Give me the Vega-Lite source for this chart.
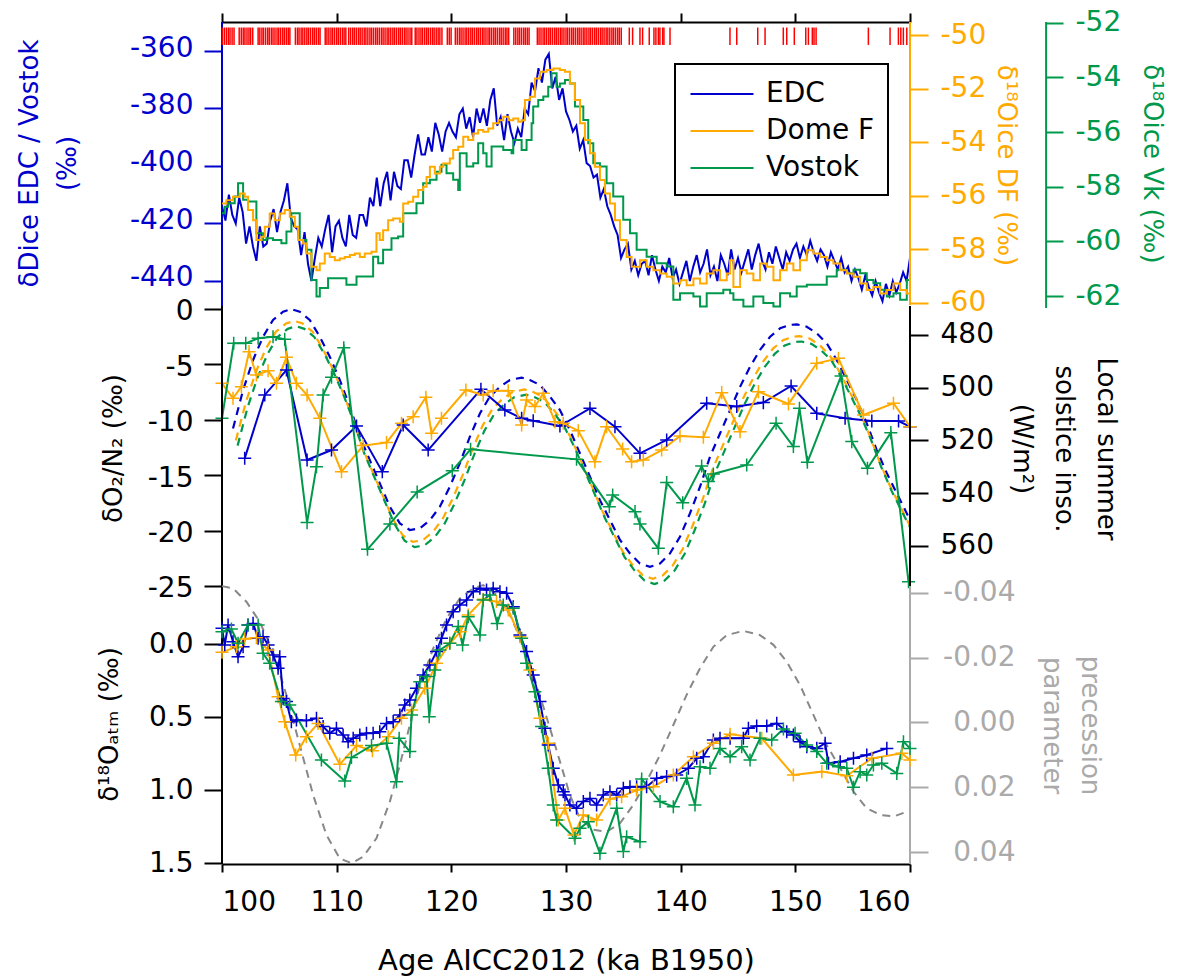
{
"$schema": "https://vega.github.io/schema/vega-lite/v6.json",
"width": 688, "height": 842,
"autosize": "none",
"padding": {"left": 222, "top": 22, "right": 271, "bottom": 115},
"background": "white",
"config": {
 "font": "DejaVu Sans",
 "view": {"stroke": null},
 "axis": {"labelFont": "DejaVu Sans", "titleFont": "DejaVu Sans", "labelFontSize": 28, "titleFontSize": 26, "titleFontWeight": "normal", "grid": false, "tickWidth": 2, "domainWidth": 2, "labelColor": "black", "titleColor": "black"},
 "legend": {"labelFont": "DejaVu Sans", "labelFontSize": 28, "strokeWidth": 2}
},
"datasets": {
 "dD": [
{"t":100.0,"v":-414},{"t":100.3,"v":-419},{"t":100.6,"v":-410},{"t":100.9,"v":-417},{"t":101.2,"v":-420},{"t":101.5,"v":-411},{"t":101.8,"v":-416},{"t":102.1,"v":-427},{"t":102.4,"v":-421},{"t":102.7,"v":-428},{"t":103.0,"v":-433},{"t":103.3,"v":-421},{"t":103.6,"v":-428},{"t":103.9,"v":-427},{"t":104.2,"v":-419},{"t":104.5,"v":-415},{"t":104.8,"v":-423},{"t":105.1,"v":-416},{"t":105.4,"v":-412},{"t":105.7,"v":-406},{"t":106.0,"v":-418},{"t":106.3,"v":-421},{"t":106.6,"v":-422},{"t":106.9,"v":-431},{"t":107.2,"v":-423},{"t":107.5,"v":-434},{"t":107.8,"v":-440},{"t":108.1,"v":-432},{"t":108.4,"v":-425},{"t":108.7,"v":-428},{"t":109.0,"v":-422},{"t":109.3,"v":-417},{"t":109.6,"v":-430},{"t":109.9,"v":-421},{"t":110.2,"v":-419},{"t":110.5,"v":-425},{"t":110.8,"v":-428},{"t":111.1,"v":-417},{"t":111.4,"v":-424},{"t":111.7,"v":-425},{"t":112.0,"v":-417},{"t":112.3,"v":-417},{"t":112.6,"v":-421},{"t":112.9,"v":-411},{"t":113.2,"v":-414},{"t":113.5,"v":-404},{"t":113.8,"v":-414},{"t":114.1,"v":-406},{"t":114.4,"v":-402},{"t":114.7,"v":-412},{"t":115.0,"v":-402},{"t":115.3,"v":-407},{"t":115.6,"v":-408},{"t":115.9,"v":-398},{"t":116.2,"v":-398},{"t":116.5,"v":-404},{"t":116.8,"v":-396},{"t":117.1,"v":-389},{"t":117.4,"v":-396},{"t":117.7,"v":-396},{"t":118.0,"v":-390},{"t":118.3,"v":-395},{"t":118.6,"v":-385},{"t":118.9,"v":-389},{"t":119.2,"v":-395},{"t":119.5,"v":-388},{"t":119.8,"v":-385},{"t":120.1,"v":-388},{"t":120.4,"v":-390},{"t":120.7,"v":-382},{"t":121.0,"v":-380},{"t":121.3,"v":-387},{"t":121.6,"v":-383},{"t":121.9,"v":-390},{"t":122.2,"v":-380},{"t":122.5,"v":-385},{"t":122.8,"v":-380},{"t":123.1,"v":-386},{"t":123.4,"v":-377},{"t":123.7,"v":-373},{"t":124.0,"v":-386},{"t":124.3,"v":-383},{"t":124.6,"v":-391},{"t":124.9,"v":-382},{"t":125.2,"v":-388},{"t":125.5,"v":-392},{"t":125.8,"v":-387},{"t":126.1,"v":-390},{"t":126.4,"v":-380},{"t":126.7,"v":-382},{"t":127.0,"v":-371},{"t":127.3,"v":-374},{"t":127.6,"v":-366},{"t":127.9,"v":-371},{"t":128.2,"v":-363},{"t":128.5,"v":-361},{"t":128.8,"v":-373},{"t":129.1,"v":-369},{"t":129.4,"v":-377},{"t":129.7,"v":-373},{"t":130.0,"v":-381},{"t":130.3,"v":-384},{"t":130.6,"v":-388},{"t":130.9,"v":-386},{"t":131.2,"v":-394},{"t":131.5,"v":-391},{"t":131.8,"v":-399},{"t":132.1,"v":-400},{"t":132.4,"v":-404},{"t":132.7,"v":-403},{"t":133.0,"v":-411},{"t":133.3,"v":-408},{"t":133.6,"v":-414},{"t":133.9,"v":-417},{"t":134.2,"v":-421},{"t":134.5,"v":-424},{"t":134.8,"v":-432},{"t":135.1,"v":-429},{"t":135.4,"v":-427},{"t":135.7,"v":-436},{"t":136.0,"v":-433},{"t":136.3,"v":-438},{"t":136.6,"v":-434},{"t":136.9,"v":-433},{"t":137.2,"v":-438},{"t":137.5,"v":-431},{"t":137.8,"v":-436},{"t":138.1,"v":-440},{"t":138.4,"v":-435},{"t":138.7,"v":-437},{"t":139.0,"v":-432},{"t":139.3,"v":-439},{"t":139.6,"v":-436},{"t":139.9,"v":-441},{"t":140.2,"v":-437},{"t":140.5,"v":-433},{"t":140.8,"v":-440},{"t":141.1,"v":-435},{"t":141.4,"v":-431},{"t":141.7,"v":-437},{"t":142.0,"v":-434},{"t":142.3,"v":-429},{"t":142.6,"v":-438},{"t":142.9,"v":-435},{"t":143.2,"v":-440},{"t":143.5,"v":-431},{"t":143.8,"v":-434},{"t":144.1,"v":-438},{"t":144.4,"v":-429},{"t":144.7,"v":-436},{"t":145.0,"v":-432},{"t":145.3,"v":-437},{"t":145.6,"v":-433},{"t":145.9,"v":-429},{"t":146.2,"v":-436},{"t":146.5,"v":-431},{"t":146.8,"v":-427},{"t":147.1,"v":-433},{"t":147.4,"v":-436},{"t":147.7,"v":-430},{"t":148.0,"v":-434},{"t":148.3,"v":-428},{"t":148.6,"v":-432},{"t":148.9,"v":-436},{"t":149.2,"v":-430},{"t":149.5,"v":-433},{"t":149.8,"v":-429},{"t":150.1,"v":-427},{"t":150.4,"v":-432},{"t":150.7,"v":-428},{"t":151.0,"v":-431},{"t":151.3,"v":-426},{"t":151.6,"v":-430},{"t":151.9,"v":-433},{"t":152.2,"v":-429},{"t":152.5,"v":-431},{"t":152.8,"v":-435},{"t":153.1,"v":-430},{"t":153.4,"v":-433},{"t":153.7,"v":-436},{"t":154.0,"v":-432},{"t":154.3,"v":-437},{"t":154.6,"v":-435},{"t":154.9,"v":-440},{"t":155.2,"v":-436},{"t":155.5,"v":-439},{"t":155.8,"v":-443},{"t":156.1,"v":-438},{"t":156.4,"v":-442},{"t":156.7,"v":-445},{"t":157.0,"v":-440},{"t":157.3,"v":-444},{"t":157.6,"v":-447},{"t":157.9,"v":-441},{"t":158.2,"v":-445},{"t":158.5,"v":-440},{"t":158.8,"v":-444},{"t":159.1,"v":-441},{"t":159.4,"v":-437},{"t":159.7,"v":-440},{"t":160.0,"v":-432}
 ],
 "df": [
{"t":100.0,"v":-56.29},{"t":100.38,"v":-56.17},{"t":100.96,"v":-56.04},{"t":101.55,"v":-55.92},{"t":101.98,"v":-56.04},{"t":102.27,"v":-56.54},{"t":102.71,"v":-56.92},{"t":103.0,"v":-57.66},{"t":103.44,"v":-57.54},{"t":103.73,"v":-57.16},{"t":104.16,"v":-56.67},{"t":104.6,"v":-56.92},{"t":105.04,"v":-56.67},{"t":105.47,"v":-56.54},{"t":105.91,"v":-56.79},{"t":106.35,"v":-57.16},{"t":106.64,"v":-57.66},{"t":107.07,"v":-57.79},{"t":107.36,"v":-58.16},{"t":107.8,"v":-58.66},{"t":108.24,"v":-58.79},{"t":108.53,"v":-58.54},{"t":108.96,"v":-58.16},{"t":109.4,"v":-58.29},{"t":109.84,"v":-58.41},{"t":110.27,"v":-58.35},{"t":110.71,"v":-58.29},{"t":111.15,"v":-58.22},{"t":111.58,"v":-58.16},{"t":112.02,"v":-58.29},{"t":112.45,"v":-58.16},{"t":113.04,"v":-58.1},{"t":113.47,"v":-57.41},{"t":113.76,"v":-57.66},{"t":114.05,"v":-57.29},{"t":114.49,"v":-56.92},{"t":114.93,"v":-56.85},{"t":115.51,"v":-56.98},{"t":115.8,"v":-56.29},{"t":116.24,"v":-56.23},{"t":116.67,"v":-56.04},{"t":117.11,"v":-55.79},{"t":117.54,"v":-55.67},{"t":117.84,"v":-55.3},{"t":118.13,"v":-54.92},{"t":118.56,"v":-55.17},{"t":119.0,"v":-54.92},{"t":119.29,"v":-54.8},{"t":119.87,"v":-54.61},{"t":120.16,"v":-54.3},{"t":120.6,"v":-54.17},{"t":121.04,"v":-53.8},{"t":121.47,"v":-53.92},{"t":121.91,"v":-53.68},{"t":122.34,"v":-53.55},{"t":122.78,"v":-53.61},{"t":123.22,"v":-53.49},{"t":123.65,"v":-53.3},{"t":124.09,"v":-53.18},{"t":124.53,"v":-53.05},{"t":124.96,"v":-53.18},{"t":125.4,"v":-53.12},{"t":125.84,"v":-53.24},{"t":126.13,"v":-53.18},{"t":126.42,"v":-52.43},{"t":126.85,"v":-52.31},{"t":127.29,"v":-51.62},{"t":127.73,"v":-51.37},{"t":128.31,"v":-51.31},{"t":128.89,"v":-51.25},{"t":129.47,"v":-51.31},{"t":129.91,"v":-51.37},{"t":130.34,"v":-51.81},{"t":130.78,"v":-52.43},{"t":131.22,"v":-53.3},{"t":131.65,"v":-53.92},{"t":132.09,"v":-54.42},{"t":132.52,"v":-54.92},{"t":132.96,"v":-55.42},{"t":133.4,"v":-55.92},{"t":133.83,"v":-56.29},{"t":134.27,"v":-56.92},{"t":134.71,"v":-57.66},{"t":135.29,"v":-58.29},{"t":135.72,"v":-58.66},{"t":136.45,"v":-58.41},{"t":137.03,"v":-58.66},{"t":137.62,"v":-58.79},{"t":138.2,"v":-58.91},{"t":138.78,"v":-59.03},{"t":139.36,"v":-59.28},{"t":139.94,"v":-59.16},{"t":140.52,"v":-59.35},{"t":141.11,"v":-59.1},{"t":141.69,"v":-59.28},{"t":142.27,"v":-58.91},{"t":142.85,"v":-58.79},{"t":143.43,"v":-59.16},{"t":144.02,"v":-58.91},{"t":144.31,"v":-58.41},{"t":144.6,"v":-59.41},{"t":145.18,"v":-58.79},{"t":145.76,"v":-58.91},{"t":146.34,"v":-59.16},{"t":146.92,"v":-58.54},{"t":147.51,"v":-58.66},{"t":148.09,"v":-59.16},{"t":148.67,"v":-58.79},{"t":149.25,"v":-58.54},{"t":149.83,"v":-58.79},{"t":150.41,"v":-58.41},{"t":151.0,"v":-58.04},{"t":151.58,"v":-58.16},{"t":152.16,"v":-58.29},{"t":152.74,"v":-58.41},{"t":153.32,"v":-58.54},{"t":153.91,"v":-58.79},{"t":154.49,"v":-58.91},{"t":155.07,"v":-59.03},{"t":155.65,"v":-59.28},{"t":156.23,"v":-59.53},{"t":156.81,"v":-59.41},{"t":157.4,"v":-59.66},{"t":157.98,"v":-59.53},{"t":158.56,"v":-59.28},{"t":159.14,"v":-59.53},{"t":159.72,"v":-59.66},{"t":160.0,"v":-59.66}
 ],
 "vk": [
{"t":100.0,"v":-58.97},{"t":100.24,"v":-58.73},{"t":100.53,"v":-58.61},{"t":101.11,"v":-58.36},{"t":101.4,"v":-57.87},{"t":101.84,"v":-58.48},{"t":102.27,"v":-58.54},{"t":103.0,"v":-59.7},{"t":103.58,"v":-59.95},{"t":103.87,"v":-59.89},{"t":104.45,"v":-59.95},{"t":105.18,"v":-60.07},{"t":105.62,"v":-59.64},{"t":106.05,"v":-58.97},{"t":106.78,"v":-59.95},{"t":107.36,"v":-60.31},{"t":107.8,"v":-61.41},{"t":108.24,"v":-62.02},{"t":108.53,"v":-61.71},{"t":109.25,"v":-61.35},{"t":110.85,"v":-61.59},{"t":111.73,"v":-61.29},{"t":113.18,"v":-60.56},{"t":113.62,"v":-60.8},{"t":114.05,"v":-60.31},{"t":114.78,"v":-59.89},{"t":115.36,"v":-59.82},{"t":115.8,"v":-58.97},{"t":116.96,"v":-58.61},{"t":117.54,"v":-57.87},{"t":118.13,"v":-57.75},{"t":118.71,"v":-57.45},{"t":119.14,"v":-57.2},{"t":119.58,"v":-57.51},{"t":120.16,"v":-57.75},{"t":120.6,"v":-58.12},{"t":120.74,"v":-56.78},{"t":121.33,"v":-57.26},{"t":121.91,"v":-57.14},{"t":122.34,"v":-56.41},{"t":122.78,"v":-56.78},{"t":123.07,"v":-57.26},{"t":123.51,"v":-56.53},{"t":124.53,"v":-56.66},{"t":125.25,"v":-56.78},{"t":125.4,"v":-56.29},{"t":126.13,"v":-56.66},{"t":126.56,"v":-56.29},{"t":127.0,"v":-55.68},{"t":127.14,"v":-55.07},{"t":127.58,"v":-54.83},{"t":128.02,"v":-54.7},{"t":128.45,"v":-54.34},{"t":128.74,"v":-53.85},{"t":129.18,"v":-54.34},{"t":129.47,"v":-54.22},{"t":129.91,"v":-54.1},{"t":130.34,"v":-54.22},{"t":130.78,"v":-55.07},{"t":131.51,"v":-55.56},{"t":131.94,"v":-56.41},{"t":132.38,"v":-57.14},{"t":132.96,"v":-57.26},{"t":133.54,"v":-57.87},{"t":134.12,"v":-58.36},{"t":134.99,"v":-59.21},{"t":135.58,"v":-59.7},{"t":136.16,"v":-60.31},{"t":137.03,"v":-60.56},{"t":137.91,"v":-60.8},{"t":138.78,"v":-60.92},{"t":139.36,"v":-62.14},{"t":139.94,"v":-61.9},{"t":141.11,"v":-62.02},{"t":141.69,"v":-62.38},{"t":142.27,"v":-61.9},{"t":143.72,"v":-61.77},{"t":144.31,"v":-61.9},{"t":144.6,"v":-62.14},{"t":145.47,"v":-62.38},{"t":146.34,"v":-62.02},{"t":147.21,"v":-62.26},{"t":148.09,"v":-62.38},{"t":148.67,"v":-61.9},{"t":149.54,"v":-62.02},{"t":150.12,"v":-61.65},{"t":151.0,"v":-61.59},{"t":151.87,"v":-61.59},{"t":152.74,"v":-61.29},{"t":153.61,"v":-61.04},{"t":154.49,"v":-61.17},{"t":155.07,"v":-61.04},{"t":155.65,"v":-61.17},{"t":156.23,"v":-61.41},{"t":156.81,"v":-61.53},{"t":157.4,"v":-61.77},{"t":157.98,"v":-62.02},{"t":158.56,"v":-61.9},{"t":159.14,"v":-62.14},{"t":159.72,"v":-61.41},{"t":160.0,"v":-61.41}
 ],
 "tk": [
{"t":100.02},{"t":100.2},{"t":100.38},{"t":100.55},{"t":100.7},{"t":100.88},{"t":101.05},{"t":101.5},{"t":101.68},{"t":101.85},{"t":102.0},{"t":102.18},{"t":102.35},{"t":102.5},{"t":102.68},{"t":103.15},{"t":103.3},{"t":103.48},{"t":103.62},{"t":103.8},{"t":103.98},{"t":104.12},{"t":104.3},{"t":104.45},{"t":104.62},{"t":104.8},{"t":104.95},{"t":105.12},{"t":105.3},{"t":105.45},{"t":105.62},{"t":105.78},{"t":105.92},{"t":106.4},{"t":106.58},{"t":106.72},{"t":106.9},{"t":107.05},{"t":107.22},{"t":107.4},{"t":107.55},{"t":107.72},{"t":107.9},{"t":108.05},{"t":108.22},{"t":108.4},{"t":108.55},{"t":109.0},{"t":109.15},{"t":109.32},{"t":109.5},{"t":109.65},{"t":109.82},{"t":110.0},{"t":110.15},{"t":110.32},{"t":110.5},{"t":110.65},{"t":110.8},{"t":111.05},{"t":111.22},{"t":111.4},{"t":111.55},{"t":111.72},{"t":111.9},{"t":112.05},{"t":112.22},{"t":112.4},{"t":112.55},{"t":112.72},{"t":112.9},{"t":113.05},{"t":113.22},{"t":113.4},{"t":113.55},{"t":113.72},{"t":113.9},{"t":114.05},{"t":114.22},{"t":114.4},{"t":114.55},{"t":114.72},{"t":114.9},{"t":115.05},{"t":115.22},{"t":115.4},{"t":115.55},{"t":115.72},{"t":115.9},{"t":116.05},{"t":116.22},{"t":116.4},{"t":116.55},{"t":116.85},{"t":117.0},{"t":117.18},{"t":117.35},{"t":117.5},{"t":117.68},{"t":117.85},{"t":118.0},{"t":118.18},{"t":118.35},{"t":118.5},{"t":118.68},{"t":118.85},{"t":119.0},{"t":119.18},{"t":119.65},{"t":119.82},{"t":119.98},{"t":120.35},{"t":120.52},{"t":120.7},{"t":120.85},{"t":121.02},{"t":121.2},{"t":121.35},{"t":121.52},{"t":121.7},{"t":121.85},{"t":122.02},{"t":122.2},{"t":122.35},{"t":122.52},{"t":122.7},{"t":122.85},{"t":123.02},{"t":123.2},{"t":123.35},{"t":123.52},{"t":123.7},{"t":123.85},{"t":124.02},{"t":124.2},{"t":124.35},{"t":124.52},{"t":124.7},{"t":124.85},{"t":125.0},{"t":125.45},{"t":125.62},{"t":125.8},{"t":125.95},{"t":126.12},{"t":126.3},{"t":126.45},{"t":126.62},{"t":126.78},{"t":127.5},{"t":127.65},{"t":127.82},{"t":128.0},{"t":128.15},{"t":128.32},{"t":128.5},{"t":128.65},{"t":128.82},{"t":129.0},{"t":129.15},{"t":129.32},{"t":129.5},{"t":129.65},{"t":129.82},{"t":130.0},{"t":130.15},{"t":130.32},{"t":130.5},{"t":130.65},{"t":130.82},{"t":131.0},{"t":131.15},{"t":131.32},{"t":131.5},{"t":131.65},{"t":131.82},{"t":132.0},{"t":132.15},{"t":132.32},{"t":132.5},{"t":132.65},{"t":132.82},{"t":133.0},{"t":133.15},{"t":133.32},{"t":133.5},{"t":133.65},{"t":133.82},{"t":134.0},{"t":134.15},{"t":134.32},{"t":134.5},{"t":134.65},{"t":134.82},{"t":135.52},{"t":135.81},{"t":136.45},{"t":136.68},{"t":137.26},{"t":137.67},{"t":137.84},{"t":138.05},{"t":138.19},{"t":138.43},{"t":138.54},{"t":139.07},{"t":144.3},{"t":144.89},{"t":146.72},{"t":147.36},{"t":148.95},{"t":149.25},{"t":149.91},{"t":150.91},{"t":151.14},{"t":151.48},{"t":151.63},{"t":151.81},{"t":156.37},{"t":158.26},{"t":158.99},{"t":159.2},{"t":159.42},{"t":159.72}
 ],
 "o2": [
{"s":"EDC","t":101.98,"v":-13.48},{"s":"EDC","t":103.73,"v":-7.76},{"s":"EDC","t":105.62,"v":-5.51},{"s":"EDC","t":107.42,"v":-13.63},{"s":"EDC","t":109.55,"v":-12.73},{"s":"EDC","t":111.73,"v":-10.56},{"s":"EDC","t":113.98,"v":-14.68},{"s":"EDC","t":115.8,"v":-10.47},{"s":"EDC","t":117.98,"v":-12.73},{"s":"EDC","t":122.58,"v":-7.25},{"s":"EDC","t":124.67,"v":-9.12},{"s":"EDC","t":126.13,"v":-9.87},{"s":"EDC","t":127.14,"v":-10.08},{"s":"EDC","t":129.47,"v":-10.56},{"s":"EDC","t":132.09,"v":-8.97},{"s":"EDC","t":134.27,"v":-10.62},{"s":"EDC","t":136.45,"v":-13.03},{"s":"EDC","t":138.78,"v":-11.82},{"s":"EDC","t":142.27,"v":-8.51},{"s":"EDC","t":144.89,"v":-8.81},{"s":"EDC","t":147.21,"v":-8.45},{"s":"EDC","t":149.63,"v":-6.95},{"s":"EDC","t":151.87,"v":-9.42},{"s":"EDC","t":154.34,"v":-9.87},{"s":"EDC","t":156.67,"v":-10.11},{"s":"EDC","t":159.0,"v":-10.11},{"s":"EDC","t":160.0,"v":-10.62},
{"s":"Dome F","t":100.0,"v":-6.71},{"s":"Dome F","t":100.96,"v":-8.06},{"s":"Dome F","t":101.69,"v":-7.01},{"s":"Dome F","t":102.36,"v":-3.85},{"s":"Dome F","t":103.0,"v":-5.96},{"s":"Dome F","t":104.02,"v":-5.57},{"s":"Dome F","t":104.75,"v":-6.71},{"s":"Dome F","t":105.62,"v":-4.36},{"s":"Dome F","t":106.49,"v":-6.71},{"s":"Dome F","t":107.42,"v":-7.76},{"s":"Dome F","t":108.53,"v":-9.87},{"s":"Dome F","t":110.42,"v":-14.68},{"s":"Dome F","t":112.31,"v":-12.33},{"s":"Dome F","t":114.35,"v":-12.06},{"s":"Dome F","t":115.65,"v":-10.32},{"s":"Dome F","t":116.67,"v":-9.72},{"s":"Dome F","t":117.78,"v":-7.97},{"s":"Dome F","t":118.27,"v":-11.22},{"s":"Dome F","t":119.14,"v":-9.87},{"s":"Dome F","t":121.27,"v":-7.31},{"s":"Dome F","t":122.78,"v":-7.76},{"s":"Dome F","t":123.65,"v":-7.37},{"s":"Dome F","t":124.96,"v":-7.37},{"s":"Dome F","t":126.13,"v":-10.47},{"s":"Dome F","t":126.56,"v":-8.21},{"s":"Dome F","t":127.29,"v":-8.81},{"s":"Dome F","t":128.02,"v":-7.61},{"s":"Dome F","t":129.04,"v":-10.17},{"s":"Dome F","t":129.76,"v":-10.32},{"s":"Dome F","t":131.07,"v":-10.98},{"s":"Dome F","t":132.52,"v":-13.78},{"s":"Dome F","t":133.54,"v":-10.62},{"s":"Dome F","t":134.94,"v":-12.64},{"s":"Dome F","t":135.72,"v":-13.78},{"s":"Dome F","t":136.74,"v":-13.63},{"s":"Dome F","t":138.34,"v":-12.73},{"s":"Dome F","t":139.94,"v":-11.46},{"s":"Dome F","t":141.98,"v":-11.58},{"s":"Dome F","t":143.58,"v":-7.55},{"s":"Dome F","t":145.18,"v":-11.07},{"s":"Dome F","t":146.78,"v":-7.46},{"s":"Dome F","t":149.4,"v":-8.57},{"s":"Dome F","t":151.87,"v":-4.9},{"s":"Dome F","t":153.76,"v":-4.45},{"s":"Dome F","t":155.94,"v":-9.57},{"s":"Dome F","t":158.56,"v":-8.51},{"s":"Dome F","t":160.0,"v":-10.62},
{"s":"Vostok","t":100.0,"v":-9.87},{"s":"Vostok","t":101.02,"v":-3.1},{"s":"Vostok","t":102.07,"v":-3.1},{"s":"Vostok","t":103.15,"v":-2.65},{"s":"Vostok","t":104.45,"v":-2.5},{"s":"Vostok","t":105.47,"v":-2.74},{"s":"Vostok","t":107.42,"v":-19.28},{"s":"Vostok","t":108.24,"v":-14.23},{"s":"Vostok","t":108.82,"v":-7.76},{"s":"Vostok","t":109.55,"v":-6.17},{"s":"Vostok","t":110.62,"v":-3.49},{"s":"Vostok","t":112.69,"v":-21.69},{"s":"Vostok","t":114.64,"v":-19.4},{"s":"Vostok","t":117.02,"v":-16.52},{"s":"Vostok","t":120.08,"v":-14.59},{"s":"Vostok","t":121.68,"v":-12.67},{"s":"Vostok","t":130.92,"v":-13.57},{"s":"Vostok","t":133.78,"v":-17.84},{"s":"Vostok","t":134.07,"v":-16.79},{"s":"Vostok","t":136.02,"v":-18.29},{"s":"Vostok","t":136.45,"v":-19.4},{"s":"Vostok","t":138.05,"v":-21.6},{"s":"Vostok","t":138.78,"v":-15.67},{"s":"Vostok","t":140.18,"v":-17.48},{"s":"Vostok","t":141.83,"v":-14.17},{"s":"Vostok","t":142.42,"v":-15.58},{"s":"Vostok","t":142.85,"v":-14.89},{"s":"Vostok","t":145.76,"v":-14.08},{"s":"Vostok","t":148.32,"v":-10.32},{"s":"Vostok","t":149.83,"v":-12.42},{"s":"Vostok","t":150.36,"v":-8.97},{"s":"Vostok","t":151.05,"v":-13.84},{"s":"Vostok","t":153.99,"v":-6.05},{"s":"Vostok","t":154.92,"v":-11.97},{"s":"Vostok","t":156.29,"v":-14.38},{"s":"Vostok","t":158.33,"v":-11.16},{"s":"Vostok","t":159.87,"v":-24.61}
 ],
 "ins": [
{"s":"EDC","t":100.96,"v":515.5},{"s":"EDC","t":101.84,"v":500.9},{"s":"EDC","t":102.71,"v":489.5},{"s":"EDC","t":103.58,"v":480.7},{"s":"EDC","t":104.45,"v":474.3},{"s":"EDC","t":105.33,"v":471.2},{"s":"EDC","t":106.05,"v":470.2},{"s":"EDC","t":106.78,"v":471.2},{"s":"EDC","t":107.65,"v":474.3},{"s":"EDC","t":108.53,"v":480.7},{"s":"EDC","t":109.4,"v":488.3},{"s":"EDC","t":110.27,"v":497.1},{"s":"EDC","t":111.15,"v":507.2},{"s":"EDC","t":112.02,"v":518.6},{"s":"EDC","t":112.89,"v":527.5},{"s":"EDC","t":113.76,"v":536.3},{"s":"EDC","t":114.64,"v":545.2},{"s":"EDC","t":115.51,"v":551.5},{"s":"EDC","t":116.38,"v":554.0},{"s":"EDC","t":117.25,"v":553.4},{"s":"EDC","t":118.13,"v":550.3},{"s":"EDC","t":119.0,"v":545.2},{"s":"EDC","t":119.87,"v":537.6},{"s":"EDC","t":120.74,"v":528.7},{"s":"EDC","t":121.62,"v":518.6},{"s":"EDC","t":122.49,"v":509.8},{"s":"EDC","t":123.36,"v":503.4},{"s":"EDC","t":124.24,"v":499.7},{"s":"EDC","t":125.11,"v":497.1},{"s":"EDC","t":126.13,"v":496.2},{"s":"EDC","t":126.85,"v":497.1},{"s":"EDC","t":127.73,"v":499.0},{"s":"EDC","t":128.6,"v":503.4},{"s":"EDC","t":129.47,"v":508.5},{"s":"EDC","t":130.34,"v":516.1},{"s":"EDC","t":131.22,"v":525.0},{"s":"EDC","t":132.09,"v":533.8},{"s":"EDC","t":132.96,"v":542.7},{"s":"EDC","t":133.83,"v":550.2},{"s":"EDC","t":134.71,"v":557.8},{"s":"EDC","t":135.58,"v":562.9},{"s":"EDC","t":136.45,"v":566.7},{"s":"EDC","t":137.32,"v":568.0},{"s":"EDC","t":138.2,"v":566.7},{"s":"EDC","t":139.07,"v":562.9},{"s":"EDC","t":139.94,"v":556.6},{"s":"EDC","t":140.81,"v":547.7},{"s":"EDC","t":141.69,"v":537.6},{"s":"EDC","t":142.56,"v":526.2},{"s":"EDC","t":143.43,"v":517.4},{"s":"EDC","t":144.31,"v":508.5},{"s":"EDC","t":145.18,"v":499.7},{"s":"EDC","t":146.05,"v":492.1},{"s":"EDC","t":146.92,"v":485.7},{"s":"EDC","t":147.8,"v":480.7},{"s":"EDC","t":148.67,"v":477.5},{"s":"EDC","t":149.54,"v":476.2},{"s":"EDC","t":150.12,"v":476.0},{"s":"EDC","t":151.0,"v":476.9},{"s":"EDC","t":151.87,"v":479.4},{"s":"EDC","t":152.74,"v":483.2},{"s":"EDC","t":153.61,"v":489.5},{"s":"EDC","t":154.49,"v":497.1},{"s":"EDC","t":155.36,"v":504.7},{"s":"EDC","t":156.23,"v":513.6},{"s":"EDC","t":157.1,"v":523.7},{"s":"EDC","t":157.98,"v":532.5},{"s":"EDC","t":158.85,"v":540.1},{"s":"EDC","t":159.72,"v":547.7},{"s":"EDC","t":160.0,"v":550.3},
{"s":"Dome F","t":101.21,"v":520.0},{"s":"Dome F","t":102.09,"v":505.4},{"s":"Dome F","t":102.96,"v":494.0},{"s":"Dome F","t":103.83,"v":485.2},{"s":"Dome F","t":104.7,"v":478.8},{"s":"Dome F","t":105.58,"v":475.7},{"s":"Dome F","t":106.3,"v":474.7},{"s":"Dome F","t":107.03,"v":475.7},{"s":"Dome F","t":107.9,"v":478.8},{"s":"Dome F","t":108.78,"v":485.2},{"s":"Dome F","t":109.65,"v":492.8},{"s":"Dome F","t":110.52,"v":501.6},{"s":"Dome F","t":111.4,"v":511.7},{"s":"Dome F","t":112.27,"v":523.1},{"s":"Dome F","t":113.14,"v":532.0},{"s":"Dome F","t":114.01,"v":540.8},{"s":"Dome F","t":114.89,"v":549.7},{"s":"Dome F","t":115.76,"v":556.0},{"s":"Dome F","t":116.63,"v":558.5},{"s":"Dome F","t":117.5,"v":557.9},{"s":"Dome F","t":118.38,"v":554.8},{"s":"Dome F","t":119.25,"v":549.7},{"s":"Dome F","t":120.12,"v":542.1},{"s":"Dome F","t":120.99,"v":533.2},{"s":"Dome F","t":121.87,"v":523.1},{"s":"Dome F","t":122.74,"v":514.3},{"s":"Dome F","t":123.61,"v":507.9},{"s":"Dome F","t":124.49,"v":504.2},{"s":"Dome F","t":125.36,"v":501.6},{"s":"Dome F","t":126.38,"v":500.7},{"s":"Dome F","t":127.1,"v":501.6},{"s":"Dome F","t":127.98,"v":503.5},{"s":"Dome F","t":128.85,"v":507.9},{"s":"Dome F","t":129.72,"v":513.0},{"s":"Dome F","t":130.59,"v":520.6},{"s":"Dome F","t":131.47,"v":529.5},{"s":"Dome F","t":132.34,"v":538.3},{"s":"Dome F","t":133.21,"v":547.2},{"s":"Dome F","t":134.08,"v":554.7},{"s":"Dome F","t":134.96,"v":562.3},{"s":"Dome F","t":135.83,"v":567.4},{"s":"Dome F","t":136.7,"v":571.2},{"s":"Dome F","t":137.57,"v":572.5},{"s":"Dome F","t":138.45,"v":571.2},{"s":"Dome F","t":139.32,"v":567.4},{"s":"Dome F","t":140.19,"v":561.1},{"s":"Dome F","t":141.06,"v":552.2},{"s":"Dome F","t":141.94,"v":542.1},{"s":"Dome F","t":142.81,"v":530.7},{"s":"Dome F","t":143.68,"v":521.9},{"s":"Dome F","t":144.56,"v":513.0},{"s":"Dome F","t":145.43,"v":504.2},{"s":"Dome F","t":146.3,"v":496.6},{"s":"Dome F","t":147.17,"v":490.2},{"s":"Dome F","t":148.05,"v":485.2},{"s":"Dome F","t":148.92,"v":482.0},{"s":"Dome F","t":149.79,"v":480.7},{"s":"Dome F","t":150.37,"v":480.5},{"s":"Dome F","t":151.25,"v":481.4},{"s":"Dome F","t":152.12,"v":483.9},{"s":"Dome F","t":152.99,"v":487.7},{"s":"Dome F","t":153.86,"v":494.0},{"s":"Dome F","t":154.74,"v":501.6},{"s":"Dome F","t":155.61,"v":509.2},{"s":"Dome F","t":156.48,"v":518.1},{"s":"Dome F","t":157.35,"v":528.2},{"s":"Dome F","t":158.23,"v":537.0},{"s":"Dome F","t":159.1,"v":544.6},{"s":"Dome F","t":159.97,"v":552.2},
{"s":"Vostok","t":101.36,"v":522.0},{"s":"Vostok","t":102.24,"v":507.4},{"s":"Vostok","t":103.11,"v":496.0},{"s":"Vostok","t":103.98,"v":487.2},{"s":"Vostok","t":104.85,"v":480.8},{"s":"Vostok","t":105.73,"v":477.7},{"s":"Vostok","t":106.45,"v":476.7},{"s":"Vostok","t":107.18,"v":477.7},{"s":"Vostok","t":108.05,"v":480.8},{"s":"Vostok","t":108.93,"v":487.2},{"s":"Vostok","t":109.8,"v":494.8},{"s":"Vostok","t":110.67,"v":503.6},{"s":"Vostok","t":111.55,"v":513.7},{"s":"Vostok","t":112.42,"v":525.1},{"s":"Vostok","t":113.29,"v":534.0},{"s":"Vostok","t":114.16,"v":542.8},{"s":"Vostok","t":115.04,"v":551.7},{"s":"Vostok","t":115.91,"v":558.0},{"s":"Vostok","t":116.78,"v":560.5},{"s":"Vostok","t":117.65,"v":559.9},{"s":"Vostok","t":118.53,"v":556.8},{"s":"Vostok","t":119.4,"v":551.7},{"s":"Vostok","t":120.27,"v":544.1},{"s":"Vostok","t":121.14,"v":535.2},{"s":"Vostok","t":122.02,"v":525.1},{"s":"Vostok","t":122.89,"v":516.3},{"s":"Vostok","t":123.76,"v":509.9},{"s":"Vostok","t":124.64,"v":506.2},{"s":"Vostok","t":125.51,"v":503.6},{"s":"Vostok","t":126.53,"v":502.7},{"s":"Vostok","t":127.25,"v":503.6},{"s":"Vostok","t":128.13,"v":505.5},{"s":"Vostok","t":129.0,"v":509.9},{"s":"Vostok","t":129.87,"v":515.0},{"s":"Vostok","t":130.74,"v":522.6},{"s":"Vostok","t":131.62,"v":531.5},{"s":"Vostok","t":132.49,"v":540.3},{"s":"Vostok","t":133.36,"v":549.2},{"s":"Vostok","t":134.23,"v":556.7},{"s":"Vostok","t":135.11,"v":564.3},{"s":"Vostok","t":135.98,"v":569.4},{"s":"Vostok","t":136.85,"v":573.2},{"s":"Vostok","t":137.72,"v":574.5},{"s":"Vostok","t":138.6,"v":573.2},{"s":"Vostok","t":139.47,"v":569.4},{"s":"Vostok","t":140.34,"v":563.1},{"s":"Vostok","t":141.21,"v":554.2},{"s":"Vostok","t":142.09,"v":544.1},{"s":"Vostok","t":142.96,"v":532.7},{"s":"Vostok","t":143.83,"v":523.9},{"s":"Vostok","t":144.71,"v":515.0},{"s":"Vostok","t":145.58,"v":506.2},{"s":"Vostok","t":146.45,"v":498.6},{"s":"Vostok","t":147.32,"v":492.2},{"s":"Vostok","t":148.2,"v":487.2},{"s":"Vostok","t":149.07,"v":484.0},{"s":"Vostok","t":149.94,"v":482.7},{"s":"Vostok","t":150.52,"v":482.5},{"s":"Vostok","t":151.4,"v":483.4},{"s":"Vostok","t":152.27,"v":485.9},{"s":"Vostok","t":153.14,"v":489.7},{"s":"Vostok","t":154.01,"v":496.0},{"s":"Vostok","t":154.89,"v":503.6},{"s":"Vostok","t":155.76,"v":511.2},{"s":"Vostok","t":156.63,"v":520.1},{"s":"Vostok","t":157.5,"v":530.2},{"s":"Vostok","t":158.38,"v":539.0},{"s":"Vostok","t":159.25,"v":546.6},{"s":"Vostok","t":160.0,"v":553.0}
 ],
 "d18": [
{"s":"EDC","t":100.0,"v":-0.107},{"s":"EDC","t":100.24,"v":0.007},{"s":"EDC","t":100.53,"v":-0.13},{"s":"EDC","t":100.96,"v":-0.016},{"s":"EDC","t":101.4,"v":0.087},{"s":"EDC","t":101.84,"v":0.018},{"s":"EDC","t":102.27,"v":-0.13},{"s":"EDC","t":102.71,"v":-0.141},{"s":"EDC","t":103.15,"v":-0.039},{"s":"EDC","t":103.58,"v":-0.05},{"s":"EDC","t":104.02,"v":0.007},{"s":"EDC","t":104.45,"v":0.075},{"s":"EDC","t":104.89,"v":0.166},{"s":"EDC","t":105.04,"v":0.087},{"s":"EDC","t":105.33,"v":0.372},{"s":"EDC","t":105.62,"v":0.394},{"s":"EDC","t":106.05,"v":0.531},{"s":"EDC","t":106.49,"v":0.52},{"s":"EDC","t":107.36,"v":0.524},{"s":"EDC","t":108.24,"v":0.508},{"s":"EDC","t":108.82,"v":0.565},{"s":"EDC","t":109.4,"v":0.611},{"s":"EDC","t":109.98,"v":0.577},{"s":"EDC","t":110.56,"v":0.622},{"s":"EDC","t":111.0,"v":0.668},{"s":"EDC","t":111.44,"v":0.645},{"s":"EDC","t":112.02,"v":0.622},{"s":"EDC","t":112.6,"v":0.611},{"s":"EDC","t":113.18,"v":0.611},{"s":"EDC","t":113.76,"v":0.6},{"s":"EDC","t":114.35,"v":0.543},{"s":"EDC","t":114.93,"v":0.531},{"s":"EDC","t":115.51,"v":0.486},{"s":"EDC","t":115.94,"v":0.417},{"s":"EDC","t":116.38,"v":0.383},{"s":"EDC","t":116.96,"v":0.303},{"s":"EDC","t":117.54,"v":0.212},{"s":"EDC","t":118.13,"v":0.144},{"s":"EDC","t":118.71,"v":0.052},{"s":"EDC","t":119.14,"v":-0.039},{"s":"EDC","t":119.58,"v":-0.13},{"s":"EDC","t":120.16,"v":-0.221},{"s":"EDC","t":120.74,"v":-0.267},{"s":"EDC","t":121.33,"v":-0.301},{"s":"EDC","t":121.91,"v":-0.358},{"s":"EDC","t":122.49,"v":-0.381},{"s":"EDC","t":123.07,"v":-0.369},{"s":"EDC","t":123.65,"v":-0.381},{"s":"EDC","t":124.24,"v":-0.358},{"s":"EDC","t":124.82,"v":-0.347},{"s":"EDC","t":125.4,"v":-0.255},{"s":"EDC","t":125.98,"v":-0.062},{"s":"EDC","t":126.56,"v":0.052},{"s":"EDC","t":127.14,"v":0.212},{"s":"EDC","t":127.73,"v":0.394},{"s":"EDC","t":128.16,"v":0.577},{"s":"EDC","t":128.45,"v":0.691},{"s":"EDC","t":128.89,"v":0.85},{"s":"EDC","t":129.33,"v":0.964},{"s":"EDC","t":129.76,"v":1.01},{"s":"EDC","t":129.91,"v":1.033},{"s":"EDC","t":130.34,"v":1.101},{"s":"EDC","t":130.92,"v":1.124},{"s":"EDC","t":131.51,"v":1.078},{"s":"EDC","t":132.09,"v":1.056},{"s":"EDC","t":132.67,"v":1.101},{"s":"EDC","t":133.25,"v":1.033},{"s":"EDC","t":133.83,"v":1.01},{"s":"EDC","t":134.42,"v":1.033},{"s":"EDC","t":135.0,"v":0.987},{"s":"EDC","t":135.58,"v":0.976},{"s":"EDC","t":136.16,"v":0.976},{"s":"EDC","t":137.03,"v":0.976},{"s":"EDC","t":137.91,"v":0.919},{"s":"EDC","t":138.78,"v":0.907},{"s":"EDC","t":139.65,"v":0.896},{"s":"EDC","t":140.67,"v":0.85},{"s":"EDC","t":141.4,"v":0.782},{"s":"EDC","t":141.98,"v":0.771},{"s":"EDC","t":142.85,"v":0.657},{"s":"EDC","t":143.43,"v":0.645},{"s":"EDC","t":144.31,"v":0.645},{"s":"EDC","t":145.47,"v":0.645},{"s":"EDC","t":145.91,"v":0.577},{"s":"EDC","t":146.63,"v":0.561},{"s":"EDC","t":147.51,"v":0.561},{"s":"EDC","t":148.38,"v":0.543},{"s":"EDC","t":149.25,"v":0.6},{"s":"EDC","t":149.83,"v":0.622},{"s":"EDC","t":150.41,"v":0.668},{"s":"EDC","t":151.0,"v":0.702},{"s":"EDC","t":151.87,"v":0.714},{"s":"EDC","t":152.6,"v":0.679},{"s":"EDC","t":152.89,"v":0.816},{"s":"EDC","t":153.91,"v":0.805},{"s":"EDC","t":155.07,"v":0.782},{"s":"EDC","t":156.23,"v":0.759},{"s":"EDC","t":157.98,"v":0.714},
{"s":"Dome F","t":100.0,"v":0.057},{"s":"Dome F","t":101.25,"v":0.018},{"s":"Dome F","t":101.98,"v":-0.034},{"s":"Dome F","t":103.0,"v":-0.043},{"s":"Dome F","t":104.02,"v":0.041},{"s":"Dome F","t":104.89,"v":0.36},{"s":"Dome F","t":105.47,"v":0.531},{"s":"Dome F","t":106.43,"v":0.759},{"s":"Dome F","t":107.36,"v":0.634},{"s":"Dome F","t":108.38,"v":0.543},{"s":"Dome F","t":110.27,"v":0.823},{"s":"Dome F","t":111.73,"v":0.695},{"s":"Dome F","t":113.12,"v":0.73},{"s":"Dome F","t":114.49,"v":0.634},{"s":"Dome F","t":115.65,"v":0.508},{"s":"Dome F","t":116.53,"v":0.451},{"s":"Dome F","t":117.69,"v":0.303},{"s":"Dome F","t":118.71,"v":0.132},{"s":"Dome F","t":119.87,"v":-0.005},{"s":"Dome F","t":120.8,"v":-0.084},{"s":"Dome F","t":121.47,"v":-0.198},{"s":"Dome F","t":122.78,"v":-0.306},{"s":"Dome F","t":123.94,"v":-0.29},{"s":"Dome F","t":124.96,"v":-0.233},{"s":"Dome F","t":125.98,"v":-0.05},{"s":"Dome F","t":126.85,"v":0.178},{"s":"Dome F","t":127.73,"v":0.508},{"s":"Dome F","t":128.45,"v":0.679},{"s":"Dome F","t":129.33,"v":1.204},{"s":"Dome F","t":129.91,"v":1.124},{"s":"Dome F","t":130.69,"v":1.306},{"s":"Dome F","t":131.51,"v":1.17},{"s":"Dome F","t":132.67,"v":1.204},{"s":"Dome F","t":133.83,"v":1.06},{"s":"Dome F","t":134.85,"v":1.044},{"s":"Dome F","t":136.16,"v":0.999},{"s":"Dome F","t":137.62,"v":0.976},{"s":"Dome F","t":139.36,"v":0.896},{"s":"Dome F","t":141.11,"v":0.771},{"s":"Dome F","t":142.85,"v":0.679},{"s":"Dome F","t":144.31,"v":0.618},{"s":"Dome F","t":147.07,"v":0.645},{"s":"Dome F","t":149.83,"v":0.896},{"s":"Dome F","t":152.31,"v":0.873},{"s":"Dome F","t":154.49,"v":0.901},{"s":"Dome F","t":156.67,"v":0.782},{"s":"Dome F","t":159.29,"v":0.748},{"s":"Dome F","t":160.0,"v":0.793},
{"s":"Vostok","t":100.0,"v":-0.084},{"s":"Vostok","t":100.82,"v":-0.103},{"s":"Vostok","t":101.4,"v":-0.005},{"s":"Vostok","t":102.27,"v":-0.13},{"s":"Vostok","t":103.15,"v":-0.13},{"s":"Vostok","t":103.58,"v":0.064},{"s":"Vostok","t":104.16,"v":0.132},{"s":"Vostok","t":105.18,"v":0.394},{"s":"Vostok","t":105.91,"v":0.417},{"s":"Vostok","t":108.67,"v":0.793},{"s":"Vostok","t":110.71,"v":0.937},{"s":"Vostok","t":111.29,"v":0.777},{"s":"Vostok","t":113.04,"v":0.695},{"s":"Vostok","t":114.35,"v":0.679},{"s":"Vostok","t":115.22,"v":0.942},{"s":"Vostok","t":115.45,"v":0.645},{"s":"Vostok","t":116.38,"v":0.736},{"s":"Vostok","t":116.53,"v":0.486},{"s":"Vostok","t":117.25,"v":0.258},{"s":"Vostok","t":117.84,"v":0.223},{"s":"Vostok","t":118.07,"v":0.497},{"s":"Vostok","t":118.56,"v":0.178},{"s":"Vostok","t":119.0,"v":0.041},{"s":"Vostok","t":119.87,"v":-0.005},{"s":"Vostok","t":120.6,"v":-0.119},{"s":"Vostok","t":120.98,"v":0.007},{"s":"Vostok","t":121.47,"v":-0.187},{"s":"Vostok","t":122.49,"v":-0.062},{"s":"Vostok","t":122.78,"v":-0.301},{"s":"Vostok","t":123.36,"v":-0.335},{"s":"Vostok","t":124.0,"v":-0.141},{"s":"Vostok","t":124.53,"v":-0.267},{"s":"Vostok","t":125.4,"v":-0.244},{"s":"Vostok","t":126.13,"v":-0.039},{"s":"Vostok","t":126.56,"v":0.132},{"s":"Vostok","t":127.29,"v":0.326},{"s":"Vostok","t":127.87,"v":0.565},{"s":"Vostok","t":128.45,"v":0.85},{"s":"Vostok","t":128.89,"v":1.101},{"s":"Vostok","t":129.18,"v":1.204},{"s":"Vostok","t":130.78,"v":1.329},{"s":"Vostok","t":131.22,"v":1.261},{"s":"Vostok","t":131.94,"v":1.215},{"s":"Vostok","t":132.96,"v":1.432},{"s":"Vostok","t":134.42,"v":1.124},{"s":"Vostok","t":135.0,"v":1.42},{"s":"Vostok","t":135.29,"v":1.318},{"s":"Vostok","t":136.45,"v":1.352},{"s":"Vostok","t":136.6,"v":0.923},{"s":"Vostok","t":138.2,"v":1.078},{"s":"Vostok","t":139.36,"v":1.113},{"s":"Vostok","t":140.52,"v":0.919},{"s":"Vostok","t":141.25,"v":1.101},{"s":"Vostok","t":141.69,"v":0.839},{"s":"Vostok","t":142.56,"v":0.85},{"s":"Vostok","t":143.43,"v":0.714},{"s":"Vostok","t":144.31,"v":0.771},{"s":"Vostok","t":145.32,"v":0.702},{"s":"Vostok","t":146.05,"v":0.793},{"s":"Vostok","t":146.92,"v":0.645},{"s":"Vostok","t":147.94,"v":0.657},{"s":"Vostok","t":148.96,"v":0.581},{"s":"Vostok","t":149.98,"v":0.611},{"s":"Vostok","t":150.99,"v":0.691},{"s":"Vostok","t":151.87,"v":0.736},{"s":"Vostok","t":152.74,"v":0.816},{"s":"Vostok","t":153.76,"v":0.839},{"s":"Vostok","t":154.49,"v":0.85},{"s":"Vostok","t":155.07,"v":0.98},{"s":"Vostok","t":155.65,"v":0.873},{"s":"Vostok","t":156.23,"v":0.896},{"s":"Vostok","t":156.81,"v":0.828},{"s":"Vostok","t":157.54,"v":0.816},{"s":"Vostok","t":158.85,"v":0.885},{"s":"Vostok","t":159.43,"v":0.668},{"s":"Vostok","t":160.0,"v":0.714}
 ],
 "pr": [
{"t":100.0,"v":-0.042},{"t":100.96,"v":-0.0413},{"t":102.13,"v":-0.0372},{"t":103.29,"v":-0.031},{"t":104.45,"v":-0.0218},{"t":105.62,"v":-0.0084},{"t":106.78,"v":0.007},{"t":107.95,"v":0.0224},{"t":109.11,"v":0.0347},{"t":110.27,"v":0.0419},{"t":111.29,"v":0.0434},{"t":112.31,"v":0.0414},{"t":113.47,"v":0.0357},{"t":114.64,"v":0.0244},{"t":115.51,"v":0.0131},{"t":116.38,"v":0.0008},{"t":117.25,"v":-0.0115},{"t":118.42,"v":-0.0228},{"t":119.58,"v":-0.032},{"t":120.74,"v":-0.0382},{"t":121.91,"v":-0.0413},{"t":122.78,"v":-0.0423},{"t":123.94,"v":-0.0393},{"t":125.11,"v":-0.0331},{"t":126.27,"v":-0.0239},{"t":127.44,"v":-0.0115},{"t":128.6,"v":0.0018},{"t":129.91,"v":0.0172},{"t":130.34,"v":0.0224},{"t":131.22,"v":0.0296},{"t":132.38,"v":0.0331},{"t":133.54,"v":0.0337},{"t":134.71,"v":0.0311},{"t":135.87,"v":0.0254},{"t":137.03,"v":0.0182},{"t":138.2,"v":0.01},{"t":139.36,"v":0.0008},{"t":140.52,"v":-0.0085},{"t":141.69,"v":-0.0167},{"t":142.85,"v":-0.0233},{"t":144.02,"v":-0.0269},{"t":145.47,"v":-0.0282},{"t":146.92,"v":-0.0269},{"t":148.09,"v":-0.0239},{"t":149.25,"v":-0.0187},{"t":150.41,"v":-0.0115},{"t":151.58,"v":-0.0023},{"t":152.74,"v":0.007},{"t":153.91,"v":0.0141},{"t":155.07,"v":0.0213},{"t":156.23,"v":0.0265},{"t":157.4,"v":0.0285},{"t":158.56,"v":0.029},{"t":159.72,"v":0.0275},{"t":160.0,"v":0.027}
 ]
},
"resolve": {"scale": {"y": "independent"}, "axis": {"y": "independent", "x": "independent"}},
"layer": [
 {"data": {"name": "dD"}, "mark": {"type": "line", "color": "#0000cc", "strokeWidth": 2},
  "encoding": {
   "x": {"field": "t", "type": "quantitative", "scale": {"domain": [100, 160], "nice": false, "zero": false},
         "axis": {"orient": "top", "values": [100,110,120,130,140,150,160], "labels": false, "tickSize": 9, "domainColor": "black", "tickColor": "black", "title": null}},
   "y": {"field": "v", "type": "quantitative", "scale": {"domain": [-642.783, -349.913], "nice": false, "zero": false},
         "axis": {"orient": "left", "values": [-440,-420,-400,-380,-360], "domain": false, "tickColor": "#0000cc", "tickSize": 18, "labelColor": "#0000cc", "labelPadding": 11, "labelOffset": -3, "labelExpr": "replace(datum.label, '\u2212', '-')", "title": ["δDice EDC / Vostok", "(‰)"], "titleColor": "#0000cc", "titleX": -185, "titleY": 141, "titleAngle": -90, "titleAlign": "center", "titleBaseline": "alphabetic", "titleLineHeight": 38}}
  }},
 {"data": {"values": [{}]}, "mark": {"type": "rule", "color": "#0000cc", "strokeWidth": 2},
  "encoding": {"x": {"datum": 100, "axis": null}, "y": {"datum": -349.913, "scale": {"domain": [-642.783, -349.913], "nice": false, "zero": false}, "axis": null}, "y2": {"datum": -448.7}}},
 {"data": {"name": "vk"}, "mark": {"type": "line", "interpolate": "step-after", "color": "#00994c", "strokeWidth": 2},
  "encoding": {
   "x": {"field": "t", "type": "quantitative", "axis": null},
   "y": {"field": "v", "type": "quantitative", "scale": {"domain": [-82.783, -51.974], "nice": false, "zero": false},
         "axis": {"orient": "right", "offset": 136, "values": [-62,-60,-58,-56,-54,-52], "domain": false, "tickColor": "#00994c", "tickSize": 17, "labelColor": "#00994c", "labelPadding": 12, "labelExpr": "replace(datum.label, '\u2212', '-')", "title": "δ¹⁸Oice Vk (‰)", "titleColor": "#00994c", "titleX": 97, "titleY": 141.5, "titleAngle": 90, "titleAlign": "center", "titleBaseline": "alphabetic"}}
  }},
 {"data": {"values": [{}]}, "mark": {"type": "rule", "color": "#00994c", "strokeWidth": 2},
  "encoding": {"x": {"datum": 171.87, "axis": null}, "y": {"datum": -51.974, "scale": {"domain": [-82.783, -51.974], "nice": false, "zero": false}, "axis": null}, "y2": {"datum": -62.44}}},
 {"data": {"name": "tk"}, "mark": {"type": "rule", "color": "#ff0000", "strokeWidth": 1.5},
  "encoding": {"x": {"field": "t", "type": "quantitative", "axis": null}, "y": {"datum": -49.72, "scale": {"domain": [-80.968, -49.514], "nice": false, "zero": false}, "axis": null}, "y2": {"datum": -50.37}}},
 {"data": {"name": "df"}, "mark": {"type": "line", "interpolate": "step-after", "color": "#ffaa00", "strokeWidth": 2},
  "encoding": {
   "x": {"field": "t", "type": "quantitative", "axis": null},
   "y": {"field": "v", "type": "quantitative", "scale": {"domain": [-80.968, -49.514], "nice": false, "zero": false},
         "axis": {"orient": "right", "values": [-60,-58,-56,-54,-52,-50], "domain": false, "tickColor": "#ffaa00", "tickSize": 18, "labelColor": "#ffaa00", "labelPadding": 12, "labelExpr": "replace(datum.label, '\u2212', '-')", "title": "δ¹⁸Oice DF (‰)", "titleColor": "#ffaa00", "titleX": 87, "titleY": 143, "titleAngle": 90, "titleAlign": "center", "titleBaseline": "alphabetic"}}
  }},
 {"data": {"values": [{}]}, "mark": {"type": "rule", "color": "#ffaa00", "strokeWidth": 2},
  "encoding": {"x": {"datum": 160, "axis": null}, "y": {"datum": -49.514, "scale": {"domain": [-80.968, -49.514], "nice": false, "zero": false}, "axis": null}, "y2": {"datum": -60.086}}},
 {"data": {"name": "ins"}, "transform": [{"filter": "datum.s == 'EDC'"}], "mark": {"type": "line", "color": "#0000cc", "strokeWidth": 2.2, "strokeDash": [8, 6]},
  "encoding": {
   "x": {"field": "t", "type": "quantitative", "axis": null},
   "y": {"field": "v", "type": "quantitative", "scale": {"domain": [361.3, 680.71], "reverse": true, "nice": false, "zero": false},
         "axis": {"orient": "right", "values": [480,500,520,540,560], "domain": false, "tickColor": "black", "tickSize": 18, "labelPadding": 12, "title": ["Local summer", "solstice inso.", "(W/m²)"], "titleX": 187, "titleY": 426.5, "titleAngle": 90, "titleAlign": "center", "titleBaseline": "alphabetic", "titleLineHeight": 42}}
  }},
 {"data": {"name": "ins"}, "transform": [{"filter": "datum.s == 'Dome F'"}], "mark": {"type": "line", "color": "#ffaa00", "strokeWidth": 2.2, "strokeDash": [8, 6]},
  "encoding": {
   "x": {"field": "t", "type": "quantitative", "axis": null},
   "y": {"field": "v", "type": "quantitative", "scale": {"domain": [361.3, 680.71], "reverse": true, "nice": false, "zero": false}, "axis": null}
  }},
 {"data": {"name": "ins"}, "transform": [{"filter": "datum.s == 'Vostok'"}], "mark": {"type": "line", "color": "#00994c", "strokeWidth": 2.2, "strokeDash": [8, 6]},
  "encoding": {
   "x": {"field": "t", "type": "quantitative", "axis": null},
   "y": {"field": "v", "type": "quantitative", "scale": {"domain": [361.3, 680.71], "reverse": true, "nice": false, "zero": false}, "axis": null}
  }},
 {"data": {"name": "o2"}, "mark": {"type": "line", "strokeWidth": 2, "point": {"shape": "M-1,0L1,0M0,-1L0,1", "filled": false, "size": 170, "strokeWidth": 1.5}},
  "encoding": {
   "x": {"field": "t", "type": "quantitative", "axis": null},
   "y": {"field": "v", "type": "quantitative", "scale": {"domain": [-50.09, 25.9], "nice": false, "zero": false},
         "axis": {"orient": "left", "values": [0,-5,-10,-15,-20,-25], "domain": false, "tickColor": "black", "tickSize": 18, "labelPadding": 11, "labelOffset": 3, "labelExpr": "replace(datum.label, '\u2212', '-')", "title": "δO₂/N₂ (‰)", "titleX": -101, "titleY": 426, "titleAngle": -90, "titleAlign": "center", "titleBaseline": "alphabetic"}},
   "color": {"field": "s", "type": "nominal", "scale": {"domain": ["EDC", "Dome F", "Vostok"], "range": ["#0000cc", "#ffaa00", "#00994c"]},
             "legend": {"title": null, "orient": "none", "legendX": 453, "legendY": 42, "symbolType": "M-2,0L2,0", "symbolSize": 992, "symbolStrokeWidth": 2, "symbolOffset": 17, "labelOffset": 27, "rowPadding": 6, "padding": 13, "strokeColor": "black", "fillColor": "white"}}
  }},
 {"data": {"values": [{}]}, "mark": {"type": "rule", "color": "black", "strokeWidth": 2},
  "encoding": {"x": {"datum": 100, "axis": null}, "y": {"datum": 0.27, "scale": {"domain": [-50.09, 25.9], "nice": false, "zero": false}, "axis": null}, "y2": {"datum": -50.09}}},
 {"data": {"values": [{}]}, "mark": {"type": "rule", "color": "black", "strokeWidth": 2},
  "encoding": {"x": {"datum": 160, "axis": null}, "y": {"datum": 0.27, "scale": {"domain": [-50.09, 25.9], "nice": false, "zero": false}, "axis": null}, "y2": {"datum": -25.1}}},
 {"data": {"name": "pr"}, "mark": {"type": "line", "color": "#888888", "strokeWidth": 2, "strokeDash": [8, 6]},
  "encoding": {
   "x": {"field": "t", "type": "quantitative", "axis": null},
   "y": {"field": "v", "type": "quantitative", "scale": {"domain": [-0.21584, 0.043636], "reverse": true, "nice": false, "zero": false},
         "axis": {"orient": "right", "values": [-0.04,-0.02,0,0.02,0.04], "format": ".2f", "domain": false, "tickColor": "#aaaaaa", "tickSize": 18, "labelColor": "#aaaaaa", "labelAlign": "right", "labelPadding": 87, "labelExpr": "replace(datum.label, '\u2212', '-')", "title": ["precession", "parameter"], "titleColor": "#aaaaaa", "titleX": 171, "titleY": 703, "titleAngle": 90, "titleAlign": "center", "titleBaseline": "alphabetic", "titleLineHeight": 38}}
  }},
 {"data": {"values": [{}]}, "mark": {"type": "rule", "color": "#aaaaaa", "strokeWidth": 2},
  "encoding": {"x": {"datum": 160, "axis": null}, "y": {"datum": -0.04203, "scale": {"domain": [-0.21584, 0.043636], "reverse": true, "nice": false, "zero": false}, "axis": null}, "y2": {"datum": 0.043636}}},
 {"data": {"name": "d18"}, "mark": {"type": "line", "strokeWidth": 2, "point": {"shape": "M-1,0L1,0M0,-1L0,1", "filled": false, "size": 170, "strokeWidth": 1.5}},
  "encoding": {
   "x": {"field": "t", "type": "quantitative",
         "axis": {"orient": "bottom", "values": [100,110,120,130,140,150,160], "tickSize": 8, "labelPadding": 16, "domainColor": "black", "tickColor": "black", "title": "Age AICC2012 (ka B1950)", "titleFontSize": 29, "titlePadding": 30}},
   "y": {"field": "v", "type": "quantitative", "scale": {"domain": [-4.2545, 1.5048], "reverse": true, "nice": false, "zero": false},
         "axis": {"orient": "left", "values": [0,0.5,1,1.5], "format": ".1f", "domain": false, "tickColor": "black", "tickSize": 18, "labelPadding": 11, "title": "δ¹⁸Oₐₜₘ (‰)", "titleX": -105, "titleY": 702, "titleAngle": -90, "titleAlign": "center", "titleBaseline": "alphabetic"}},
   "color": {"field": "s", "type": "nominal", "scale": {"domain": ["EDC", "Dome F", "Vostok"], "range": ["#0000cc", "#ffaa00", "#00994c"]}, "legend": null}
  }}
]
}
